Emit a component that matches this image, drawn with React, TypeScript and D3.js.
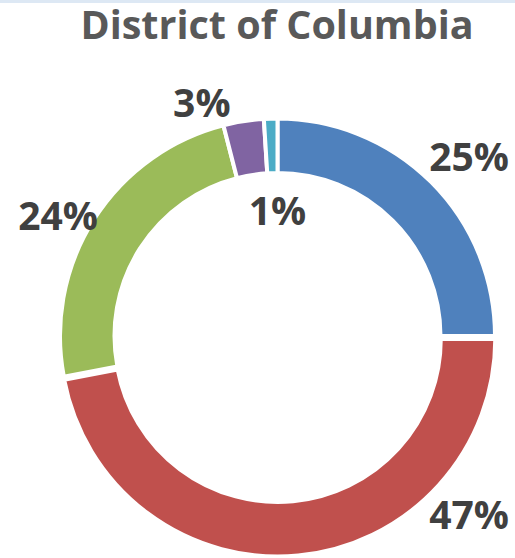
import React, { useEffect, useRef } from "react";
import * as d3 from "d3";

// slice order: clockwise from 12 o'clock
const categories = ["A", "B", "C", "D", "E"];
const values = [25, 47, 24, 3, 1];
const colors = ["#4f81bd", "#c0504d", "#9bbb59", "#8064a2", "#4bacc6"];
const labels = ["25%", "47%", "24%", "3%", "1%"];
// label placement (angle in degrees clockwise from top, distance from centre)
const labelAngle = [47, 133, 298.6, 342, 0];
const labelDist = [262, 262, 250, 245, 125];
const explode = [0, 3, 0, 0, 0];

const W = 515, H = 558;

export default function App() {
  const ref = useRef<SVGSVGElement>(null);

  useEffect(() => {
    const svg = d3.select(ref.current);
    svg.selectAll("*").remove();

    svg.append("rect").attr("width", W).attr("height", H).attr("fill", "#fff");
    svg.append("rect").attr("width", W).attr("height", 3).attr("fill", "#dde8f4");

    svg.append("text")
      .attr("x", 277)
      .attr("y", 39)
      .attr("text-anchor", "middle")
      .attr("font-family", "Open Sans")
      .attr("font-weight", "bold")
      .attr("font-size", 39.5)
      .attr("fill", "#595959")
      .text("District of Columbia");

    const cx = 277.5, cy = 336;
    const outerR = 217.5, innerR = 163;

    const pie = d3.pie<number>().sort(null).value((d) => d);
    const arcs = pie(values);
    const arc = d3.arc<d3.PieArcDatum<number>>().innerRadius(innerR).outerRadius(outerR);

    const g = svg.append("g").attr("transform", `translate(${cx},${cy})`);

    g.selectAll("path")
      .data(arcs)
      .enter().append("path")
      .attr("d", arc)
      .attr("transform", (d, i) => {
        const a = (d.startAngle + d.endAngle) / 2;
        return `translate(${explode[i] * Math.sin(a)},${-explode[i] * Math.cos(a)})`;
      })
      .attr("fill", (d, i) => colors[i])
      .attr("stroke", "#fff")
      .attr("stroke-width", 4)
      .attr("stroke-linejoin", "miter");

    g.selectAll("text.lbl")
      .data(categories)
      .enter().append("text")
      .attr("class", "lbl")
      .attr("x", (d, i) => labelDist[i] * Math.sin((labelAngle[i] * Math.PI) / 180))
      .attr("y", (d, i) => -labelDist[i] * Math.cos((labelAngle[i] * Math.PI) / 180))
      .attr("dy", "0.36em")
      .attr("text-anchor", "middle")
      .attr("font-family", "Open Sans")
      .attr("font-weight", "bold")
      .attr("font-size", 39)
      .attr("fill", "#404040")
      .text((d, i) => labels[i]);
  }, []);

  return (
    <div style={{ position: "absolute", left: 0, top: 0 }}>
      <svg ref={ref} width={W} height={H} style={{ display: "block" }} />
    </div>
  );
}
